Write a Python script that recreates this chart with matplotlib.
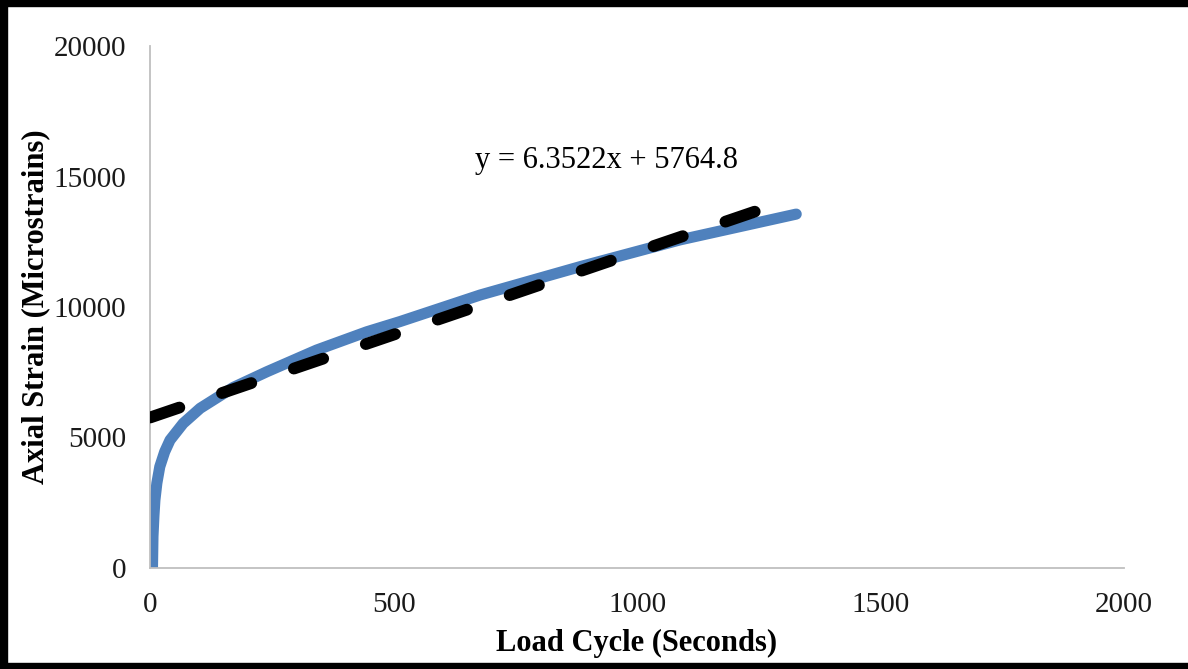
import matplotlib.pyplot as plt
import matplotlib.patches as mpatches
import numpy as np

plt.rcParams['font.family'] = ['Liberation Serif', 'DejaVu Serif']
plt.rcParams['lines.scale_dashes'] = False

# measured axial strain vs load cycle
cycles = [5, 6, 8, 10, 14, 20, 30, 41, 68, 103, 171, 240, 342, 445, 513, 678, 883, 1088, 1327]
strain = [0, 1200, 2000, 2600, 3250, 3880, 4450, 4900, 5540, 6120, 6920, 7520, 8350, 9050,
          9440, 10460, 11545, 12570, 13560]

# linear trendline from Excel
slope = 6.3522
intercept = 5764.8

xticks = [0, 500, 1000, 1500, 2000]
yticks = [0, 5000, 10000, 15000, 20000]

fig = plt.figure(figsize=(11.88, 6.69), dpi=100)
ax = fig.add_axes([0.1263, 0.1510, 0.8198, 0.7802])

ax.plot(cycles, strain, color='#4F81BD', lw=8, solid_capstyle='round',
        solid_joinstyle='round', zorder=2)

tx = np.array([0, max(cycles)])
ty = slope * tx + intercept
ax.plot(tx, ty, color='black', lw=8.5, dashes=(22.3, 32.4),
        dash_capstyle='round', zorder=3)

ax.set_xlim(0, 2000)
ax.set_ylim(0, 20000)
ax.set_xticks(xticks)
ax.set_yticks(yticks)
ax.tick_params(length=0, labelsize=21, colors='#1a1a1a')
ax.tick_params(axis='x', pad=17)
ax.tick_params(axis='y', pad=17)
for s in ['top', 'right']:
    ax.spines[s].set_visible(False)
for s in ['left', 'bottom']:
    ax.spines[s].set_color('#BFBFBF')
    ax.spines[s].set_linewidth(1.3)

ax.set_xlabel('Load Cycle (Seconds)', fontsize=22, fontweight='bold', labelpad=8)
ax.set_ylabel('Axial Strain (Microstrains)', fontsize=22, fontweight='bold')
ax.yaxis.set_label_coords(-0.102, 0.5)

ax.text(938, 15630, 'y = 6.3522x + 5764.8', fontsize=22, ha='center', va='center')

# frame around the figure
fig.patches.append(mpatches.Rectangle((0, 1 - 6 / 669), 1, 6 / 669, transform=fig.transFigure,
                                      color='black', zorder=10))
fig.patches.append(mpatches.Rectangle((0, 0), 7 / 1188, 1, transform=fig.transFigure,
                                      color='black', zorder=10))
fig.patches.append(mpatches.Rectangle((0, 0), 1, 6 / 669, transform=fig.transFigure,
                                      color='black', zorder=10))

fig.savefig('out.png', dpi=100)
